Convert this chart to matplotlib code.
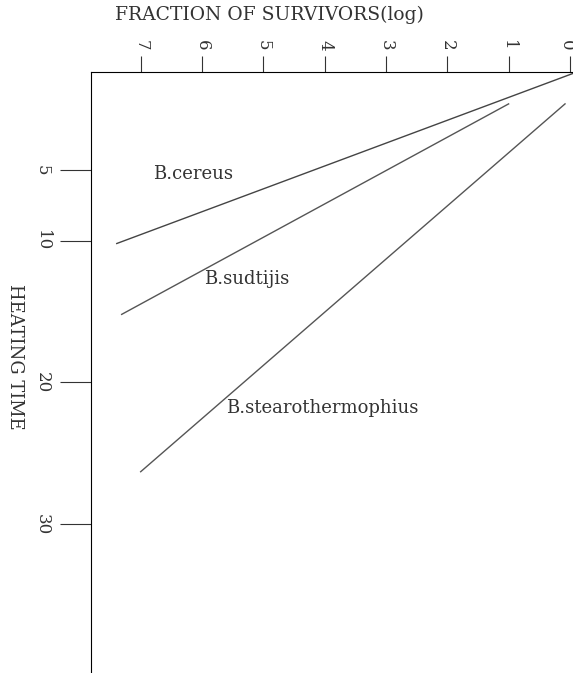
import matplotlib.pyplot as plt
from matplotlib.transforms import ScaledTranslation

# survivor fraction (log) vs heating time
cereus_log = [-0.05, 7.39]
cereus_time = [-1.8, 10.2]
sudtijis_log = [1.0, 7.31]
sudtijis_time = [0.35, 15.2]
stearo_log = [0.08, 7.0]
stearo_time = [0.35, 26.3]

x_ticks = [7, 6, 5, 4, 3, 2, 1, 0]
y_ticks = [5, 10, 20, 30]

plt.rcParams['font.family'] = ['DejaVu Serif']
line_col = '#555555'

fig = plt.figure(figsize=(5.73, 6.73), dpi=100)
ax = fig.add_axes([91 / 573, 0.0, 1 - 91 / 573, 1 - 72 / 673])

ax.plot(cereus_log, cereus_time, color='#444444', lw=1.0)
ax.plot(sudtijis_log, sudtijis_time, color=line_col, lw=1.0)
ax.plot(stearo_log, stearo_time, color=line_col, lw=1.0)

ax.set_xlim(7.81, -0.05)
ax.set_ylim(40.5, -1.9)

ax.text(6.8, 5.3, 'B.cereus', fontsize=13, color='#333333', va='center')
ax.text(5.97, 12.7, 'B.sudtijis', fontsize=13, color='#333333', va='center')
ax.text(5.6, 21.8, 'B.stearothermophius', fontsize=13, color='#333333', va='center')

ax.spines['right'].set_visible(False)
ax.spines['bottom'].set_visible(False)
ax.xaxis.tick_top()
ax.set_xticks(x_ticks)
ax.set_yticks(y_ticks)
ax.tick_params(axis='x', length=11.5, pad=4, labelrotation=-90, labelsize=12, colors='#333333')
ax.tick_params(axis='y', length=22, pad=7, labelrotation=-90, labelsize=12, colors='#333333')
for lab in ax.get_yticklabels():
    lab.set_va('center')

# the "0" label sits right at the edge; nudge it in so it stays readable
last = ax.get_xticklabels()[-1]
last.set_transform(last.get_transform() + ScaledTranslation(-4 / 100, 0, fig.dpi_scale_trans))

fig.text(115 / 573, 1 - 15 / 673, 'FRACTION OF SURVIVORS(log)', fontsize=13.5,
         color='#333333', ha='left', va='center')
fig.text(15 / 573, 1 - 357 / 673, 'HEATING TIME', fontsize=13, rotation=-90,
         color='#333333', ha='center', va='center')

fig.savefig('out.png', dpi=100)
